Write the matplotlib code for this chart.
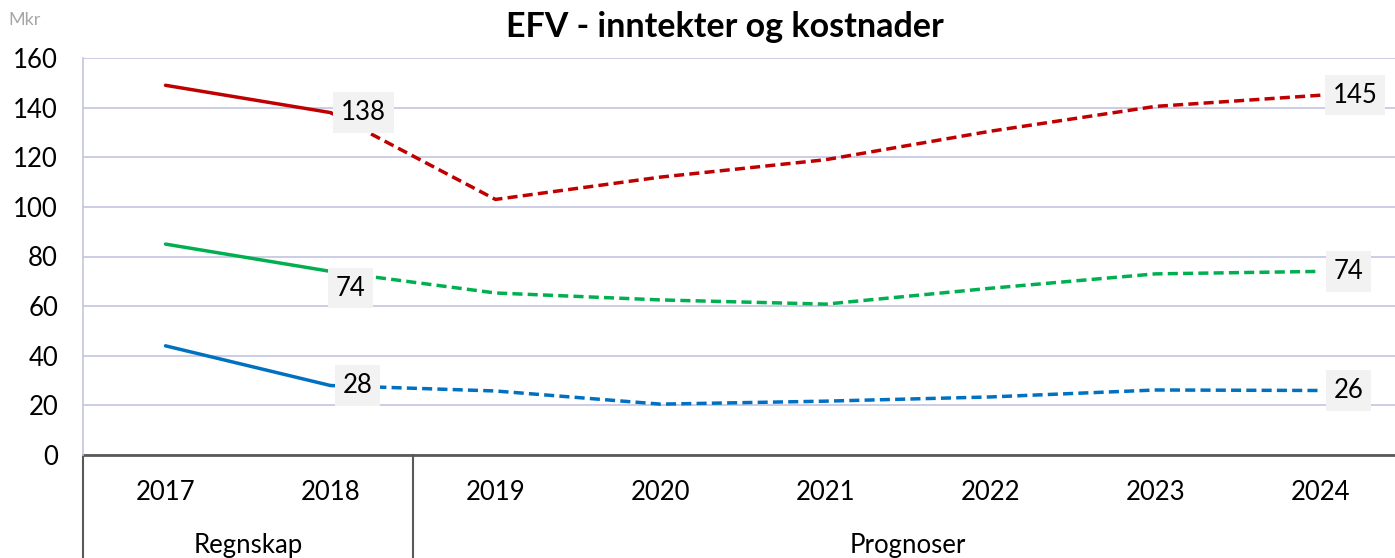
import matplotlib.pyplot as plt
import matplotlib.transforms as mtransforms

years = ["2017", "2018", "2019", "2020", "2021", "2022", "2023", "2024"]
groups = ["Regnskap", "Prognoser"]
n_regnskap = 2

red_vals = [149, 138, 103, 112, 119, 130.5, 140.5, 145]
green_vals = [85, 74, 65.3, 62.5, 60.8, 67.2, 73, 74]
blue_vals = [44, 28, 25.8, 20.5, 21.7, 23.4, 26.2, 26]

plt.rcParams['font.family'] = ['Lato', 'DejaVu Sans']
fs = 18.5

fig = plt.figure(figsize=(13.95, 5.58), dpi=100)
ax = fig.add_axes([83 / 1395, 103 / 558, 1312 / 1395, 397 / 558])

x = list(range(len(years)))
series = [(red_vals, "#C00000"), (green_vals, "#00B050"),
          (blue_vals, "#0070C0")]

for vals, col in series:
    # regnskap solid, prognoser dashed
    ax.plot(x[:n_regnskap], vals[:n_regnskap], color=col, lw=2.5,
            solid_capstyle='round')
    ax.plot(x[n_regnskap - 1:], vals[n_regnskap - 1:], color=col, lw=2.5,
            dashes=(2.9, 1.5), dash_capstyle='butt')

bbox = dict(boxstyle='square,pad=0.3', fc='#F2F2F2', ec='none')
# data labels at 2018 and 2024
ax.text(1 + 0.2, red_vals[1], "%d" % red_vals[1], fontsize=fs,
        ha='center', va='center', bbox=bbox)
ax.text(1 + 0.12, green_vals[1] - 6.8, "%d" % green_vals[1], fontsize=fs,
        ha='center', va='center', bbox=bbox)
ax.text(1 + 0.165, blue_vals[1], "%d" % blue_vals[1], fontsize=fs,
        ha='center', va='center', bbox=bbox)
ax.text(7 + 0.21, red_vals[7], "%d" % red_vals[7], fontsize=fs,
        ha='center', va='center', bbox=bbox)
ax.text(7 + 0.17, green_vals[7], "%d" % green_vals[7], fontsize=fs,
        ha='center', va='center', bbox=bbox)
ax.text(7 + 0.17, blue_vals[7], "%d" % blue_vals[7], fontsize=fs,
        ha='center', va='center', bbox=bbox)

ax.set_xlim(-0.5, -0.5 + 1312 / 165)
ax.set_ylim(0, 160)
ax.set_yticks(range(0, 161, 20))
ax.tick_params(axis='y', length=0, pad=18, labelsize=fs)
ax.set_xticks([])
ax.grid(axis='y', color='#C4C4DE', lw=1.2)
ax.set_axisbelow(True)
for s in ['top', 'right', 'bottom']:
    ax.spines[s].set_visible(False)
ax.spines['left'].set_color('#C4C4DE')
ax.spines['left'].set_linewidth(1.2)

# multi-level category axis
trans = mtransforms.blended_transform_factory(ax.transData, ax.transAxes)
ax.plot([-0.5, 8], [0, 0], transform=trans, color='#595959', lw=2,
        clip_on=False)
for xs in [-0.5, n_regnskap - 0.5]:
    ax.plot([xs, xs], [0, -0.35], transform=trans, color='#595959', lw=1.5,
            clip_on=False)
for i, yr in enumerate(years):
    ax.text(i, -37 / 397, yr, transform=trans, ha='center', va='center',
            fontsize=fs)
ax.text((n_regnskap - 1) / 2, -90 / 397, groups[0], transform=trans,
        ha='center', va='center', fontsize=fs)
ax.text((n_regnskap - 0.5 + 7.5) / 2, -90 / 397, groups[1],
        transform=trans, ha='center', va='center', fontsize=fs)

fig.text(725 / 1395, 1 - 27 / 558, "EFV - inntekter og kostnader",
         ha='center', va='center', fontsize=24.5, fontweight='bold')
fig.text(8 / 1395, 1 - 20 / 558, "Mkr", ha='left', va='center',
         fontsize=13, color='#A6A6A6')

fig.savefig("out.png", dpi=100)
